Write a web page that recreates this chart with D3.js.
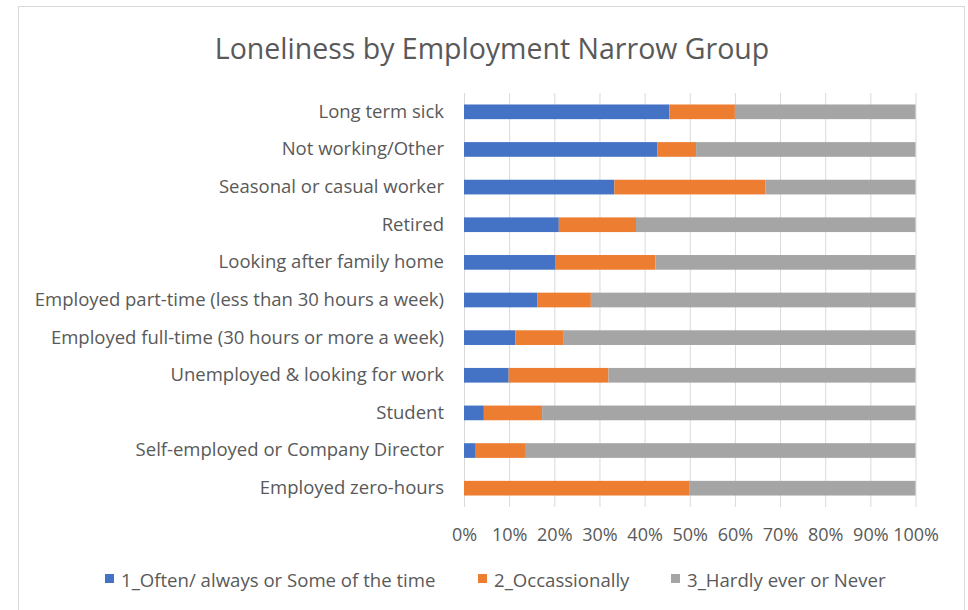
<!DOCTYPE html>
<html>
<head>
<meta charset="utf-8">
<script src="https://cdn.jsdelivr.net/npm/d3@7"></script>
<style>
  body { margin: 0; background: #fff; }
  svg { display: block; }
  text { font-family: "Open Sans", sans-serif; fill: #595959; }
</style>
</head>
<body>
<div id="chart"></div>
<script>
let categories = [
    'Long term sick',
    'Not working/Other',
    'Seasonal or casual worker',
    'Retired',
    'Looking after family home',
    'Employed part-time (less than 30 hours a week)',
    'Employed full-time (30 hours or more a week)',
    'Unemployed & looking for work',
    'Student',
    'Self-employed or Company Director',
    'Employed zero-hours'
]
let seriesNames = ['1_Often/ always or Some of the time', '2_Occassionally', '3_Hardly ever or Never']
// percentages
let often = [45.5, 42.8, 33.3, 21.0, 20.3, 16.3, 11.4, 9.9, 4.4, 2.6, 0]
let occasionally = [14.5, 8.6, 33.5, 17.1, 22.1, 11.8, 10.7, 22.1, 12.9, 11.1, 50.0]
let hardly = [40.0, 48.6, 33.2, 61.9, 57.6, 71.9, 77.9, 68.0, 82.7, 86.3, 50.0]
let tickValues = [0, 0.1, 0.2, 0.3, 0.4, 0.5, 0.6, 0.7, 0.8, 0.9, 1]
let colors = ['#4472C4', '#ED7D31', '#A5A5A5']

let rows = categories.map((c, i) => ({
    cat: c,
    s0: often[i] / 100,
    s1: occasionally[i] / 100,
    s2: hardly[i] / 100
}))

let svg = d3.select('#chart').append('svg')
    .attr('width', 968).attr('height', 610)

// chart frame
svg.append('rect')
    .attr('x', 18.5).attr('y', 6.5)
    .attr('width', 946).attr('height', 620)
    .style('fill', '#fff').style('stroke', '#d9d9d9')

svg.append('text')
    .attr('x', 492).attr('y', 59)
    .attr('text-anchor', 'middle')
    .style('font-size', '28.5px')
    .text('Loneliness by Employment Narrow Group')

let plotLeft = 464, plotRight = 915.5, plotTop = 93, plotBottom = 507

let xScale = d3.scaleLinear().domain([0, 1]).range([plotLeft, plotRight])
let yScale = d3.scaleBand().domain(categories).range([plotTop, plotBottom])
    .paddingInner(0.61).paddingOuter(0.305)

// gridlines
svg.append('g')
    .attr('transform', `translate(0, ${plotBottom})`)
    .call(d3.axisBottom(xScale).tickValues(tickValues).tickSize(-(plotBottom - plotTop)).tickFormat(''))
    .call(g => g.select('.domain').remove())
    .selectAll('line').style('stroke', '#d9d9d9')

let stack = d3.stack().keys(['s0', 's1', 's2'])
let layers = stack(rows)

svg.selectAll('g.layer')
    .data(layers)
    .enter()
    .append('g')
    .attr('class', 'layer')
    .style('fill', (d, i) => colors[i])
    .selectAll('rect')
    .data(d => d)
    .enter()
    .append('rect')
    .attr('x', d => xScale(d[0]))
    .attr('y', d => yScale(d.data.cat))
    .attr('width', d => xScale(d[1]) - xScale(d[0]))
    .attr('height', yScale.bandwidth())

// x axis labels
let xAxis = svg.append('g')
    .attr('transform', `translate(0, ${plotBottom})`)
    .call(d3.axisBottom(xScale).tickValues(tickValues).tickSize(0).tickPadding(21).tickFormat(d3.format('.0%')))
xAxis.select('.domain').remove()
xAxis.selectAll('text').style('font-size', '18px').style('font-family', '"Open Sans", sans-serif').style('fill', '#595959')

// y axis labels
let yAxis = svg.append('g')
    .attr('transform', `translate(${plotLeft}, 0)`)
    .call(d3.axisLeft(yScale).tickSize(0).tickPadding(20))
yAxis.select('.domain').remove()
yAxis.selectAll('text').style('font-size', '18.5px').style('font-family', '"Open Sans", sans-serif').style('fill', '#595959')

// legend
let legendX = [105, 478, 671]
let legend = svg.selectAll('g.legend')
    .data(seriesNames)
    .enter()
    .append('g')
    .attr('class', 'legend')
    .attr('transform', (d, i) => `translate(${legendX[i]}, 587)`)
legend.append('rect')
    .attr('x', 0).attr('y', -13)
    .attr('width', 9).attr('height', 9)
    .style('fill', (d, i) => colors[i])
legend.append('text')
    .attr('x', 16).attr('y', 0)
    .style('font-size', '18.6px')
    .text(d => d)
</script>
</body>
</html>
